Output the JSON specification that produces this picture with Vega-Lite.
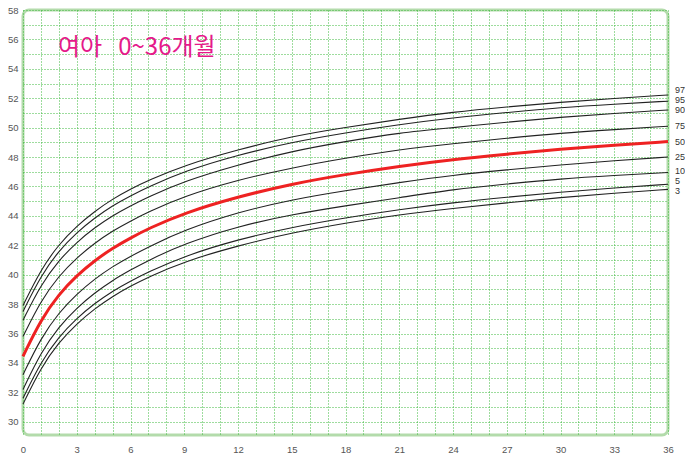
{
  "$schema": "https://vega.github.io/schema/vega-lite/v6.json",
  "width": 645,
  "height": 425,
  "autosize": {"type": "none"},
  "padding": {"left": 23, "top": 10, "right": 17, "bottom": 21},
  "background": "white",
  "config": {
    "view": {"stroke": "#b3dbab", "strokeWidth": 3, "cornerRadius": 6},
    "font": "Liberation Sans"
  },
  "datasets": {
    "curves": [
      {"month": 0, "p97": 37.9, "p95": 37.5, "p90": 36.9, "p75": 35.8, "p50": 34.45, "p25": 33.2, "p10": 32.2, "p5": 31.6, "p3": 31.2},
      {"month": 1, "p97": 40.36, "p95": 39.94, "p90": 39.32, "p75": 38.24, "p50": 36.95, "p25": 35.7, "p10": 34.72, "p5": 34.08, "p3": 33.69},
      {"month": 2, "p97": 42.06, "p95": 41.63, "p90": 40.98, "p75": 39.92, "p50": 38.67, "p25": 37.42, "p10": 36.46, "p5": 35.78, "p3": 35.4},
      {"month": 3, "p97": 43.31, "p95": 42.87, "p90": 42.21, "p75": 41.15, "p50": 39.94, "p25": 38.69, "p10": 37.74, "p5": 37.04, "p3": 36.67},
      {"month": 4, "p97": 44.31, "p95": 43.86, "p90": 43.2, "p75": 42.15, "p50": 40.96, "p25": 39.71, "p10": 38.77, "p5": 38.05, "p3": 37.69},
      {"month": 5, "p97": 45.15, "p95": 44.7, "p90": 44.02, "p75": 42.98, "p50": 41.81, "p25": 40.56, "p10": 39.62, "p5": 38.89, "p3": 38.53},
      {"month": 6, "p97": 45.83, "p95": 45.37, "p90": 44.69, "p75": 43.65, "p50": 42.5, "p25": 41.25, "p10": 40.32, "p5": 39.57, "p3": 39.22},
      {"month": 7, "p97": 46.42, "p95": 45.97, "p90": 45.29, "p75": 44.27, "p50": 43.14, "p25": 41.89, "p10": 40.98, "p5": 40.19, "p3": 39.85},
      {"month": 9, "p97": 47.44, "p95": 47.04, "p90": 46.36, "p75": 45.34, "p50": 44.2, "p25": 43.04, "p10": 42.11, "p5": 41.27, "p3": 40.9},
      {"month": 12, "p97": 48.5, "p95": 48.15, "p90": 47.47, "p75": 46.45, "p50": 45.3, "p25": 44.25, "p10": 43.3, "p5": 42.4, "p3": 41.98},
      {"month": 15, "p97": 49.41, "p95": 49.01, "p90": 48.4, "p75": 47.27, "p50": 46.18, "p25": 45.11, "p10": 44.09, "p5": 43.23, "p3": 42.85},
      {"month": 18, "p97": 50.02, "p95": 49.65, "p90": 49.06, "p75": 47.93, "p50": 46.82, "p25": 45.72, "p10": 44.69, "p5": 43.87, "p3": 43.51},
      {"month": 21, "p97": 50.57, "p95": 50.21, "p90": 49.65, "p75": 48.51, "p50": 47.38, "p25": 46.27, "p10": 45.23, "p5": 44.43, "p3": 44.09},
      {"month": 24, "p97": 51.06, "p95": 50.67, "p90": 50.0, "p75": 48.91, "p50": 47.84, "p25": 46.77, "p10": 45.8, "p5": 44.9, "p3": 44.51},
      {"month": 27, "p97": 51.41, "p95": 51.03, "p90": 50.37, "p75": 49.28, "p50": 48.2, "p25": 47.13, "p10": 46.17, "p5": 45.27, "p3": 44.89},
      {"month": 30, "p97": 51.73, "p95": 51.37, "p90": 50.71, "p75": 49.63, "p50": 48.54, "p25": 47.47, "p10": 46.52, "p5": 45.62, "p3": 45.25},
      {"month": 33, "p97": 51.99, "p95": 51.6, "p90": 50.97, "p75": 49.87, "p50": 48.81, "p25": 47.75, "p10": 46.75, "p5": 45.9, "p3": 45.54},
      {"month": 36, "p97": 52.22, "p95": 51.8, "p90": 51.2, "p75": 50.1, "p50": 49.05, "p25": 48.0, "p10": 46.95, "p5": 46.15, "p3": 45.8}
    ],
    "labels": [
      {"month": 36, "p": "97", "ly": 52.57},
      {"month": 36, "p": "95", "ly": 51.89},
      {"month": 36, "p": "90", "ly": 51.21},
      {"month": 36, "p": "75", "ly": 50.12},
      {"month": 36, "p": "50", "ly": 49.03},
      {"month": 36, "p": "25", "ly": 48.01},
      {"month": 36, "p": "10", "ly": 47.06},
      {"month": 36, "p": "5", "ly": 46.38},
      {"month": 36, "p": "3", "ly": 45.7}
    ],
    "title": [
      {"month": 1.95, "v": 55.45, "t": "여아\u00a0\u00a0\u00a00~36개월"}
    ]
  },
  "layer": [
    {
      "data": {"name": "curves"},
      "transform": [
        {"fold": ["p97", "p95", "p90", "p75", "p50", "p25", "p10", "p5", "p3"], "as": ["key", "value"]}
      ],
      "mark": {"type": "line", "interpolate": "basis"},
      "encoding": {
        "x": {
          "field": "month", "type": "quantitative",
          "scale": {"domain": [0, 36], "nice": false, "zero": false},
          "axis": {
            "title": null,
            "values": [0,1,2,3,4,5,6,7,8,9,10,11,12,13,14,15,16,17,18,19,20,21,22,23,24,25,26,27,28,29,30,31,32,33,34,35,36],
            "tickCount": 200,
            "format": "d",
            "labelExpr": "datum.value % 3 === 0 ? datum.label : ''",
            "labelOverlap": false,
            "labelFlush": false,
            "labelBound": false,
            "domain": false,
            "ticks": false,
            "grid": true,
            "gridColor": "#3cb83c",
            "gridDash": [1, 2],
            "gridWidth": 1,
            "labelPadding": 9,
            "labelFontSize": 9.5,
            "labelColor": "#555555"
          }
        },
        "y": {
          "field": "value", "type": "quantitative",
          "scale": {"domain": [29.1, 58], "nice": false, "zero": false},
          "axis": {
            "title": null,
            "values": [30,31,32,33,34,35,36,37,38,39,40,41,42,43,44,45,46,47,48,49,50,51,52,53,54,55,56,57,58],
            "tickCount": 200,
            "format": "d",
            "labelExpr": "datum.value % 2 === 0 ? datum.label : ''",
            "labelOverlap": false,
            "labelFlush": false,
            "labelBound": false,
            "domain": false,
            "ticks": false,
            "grid": true,
            "gridColor": "#3cb83c",
            "gridDash": [1, 2],
            "gridWidth": 1,
            "labelPadding": 5,
            "labelFontSize": 9.5,
            "labelColor": "#555555"
          }
        },
        "detail": {"field": "key"},
        "color": {
          "condition": {"test": "datum.key === 'p50'", "value": "#ee2222"},
          "value": "#222222"
        },
        "strokeWidth": {
          "condition": {"test": "datum.key === 'p50'", "value": 3},
          "value": 1.1
        }
      }
    },
    {
      "data": {"name": "labels"},
      "mark": {"type": "text", "align": "left", "baseline": "middle", "dx": 7, "fontSize": 9, "color": "#333333"},
      "encoding": {
        "x": {"field": "month", "type": "quantitative"},
        "y": {"field": "ly", "type": "quantitative"},
        "text": {"field": "p"}
      }
    },
    {
      "data": {"name": "title"},
      "mark": {"type": "text", "align": "left", "baseline": "middle", "fontSize": 24, "font": "Noto Sans CJK KR", "color": "#e5198a"},
      "encoding": {
        "x": {"field": "month", "type": "quantitative"},
        "y": {"field": "v", "type": "quantitative"},
        "text": {"field": "t"}
      }
    }
  ]
}
